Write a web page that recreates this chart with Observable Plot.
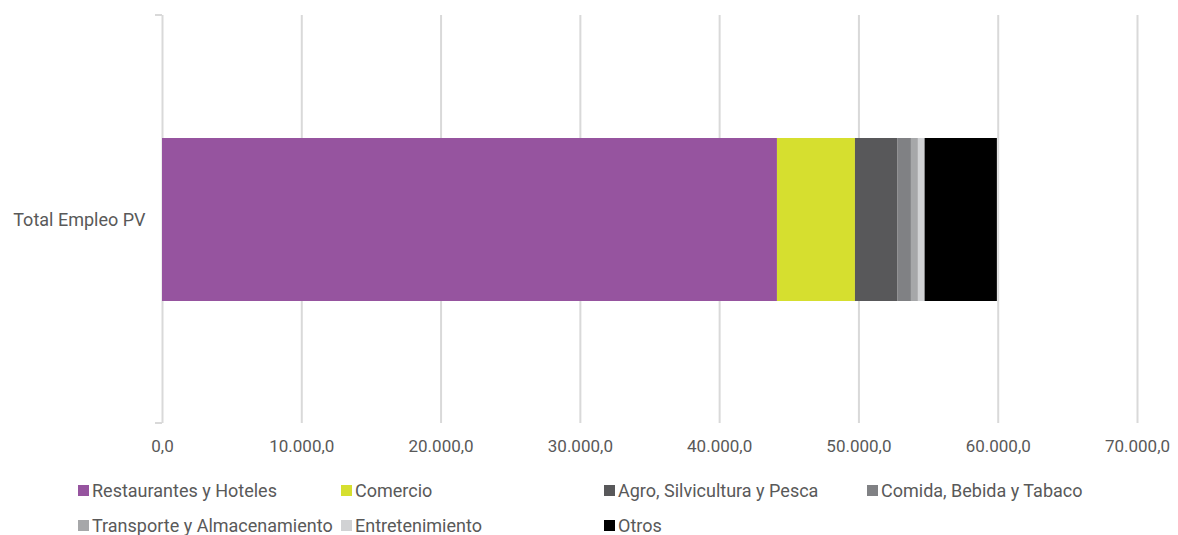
<!DOCTYPE html>
<html>
<head>
<meta charset="utf-8">
<script src="https://cdn.jsdelivr.net/npm/d3@7"></script>
<script src="https://cdn.jsdelivr.net/npm/@observablehq/plot@0.6"></script>
<style>
  html, body { margin: 0; padding: 0; background: #fff; }
  body { width: 1178px; height: 535px; position: relative; overflow: hidden; font-family: Roboto, "Noto Sans", sans-serif; }
  #chart { position: absolute; left: 0; top: 0; }
  #legend { position: absolute; left: 78px; top: 477px; display: grid; grid-template-columns: 263px 263px 263px 263px; grid-auto-rows: 35px; font-size: 18px; color: #595959; }
  .item { display: flex; align-items: center; white-space: nowrap; height: 26px; }
  .sw { width: 11px; height: 11px; margin-right: 3px; flex: none; }
</style>
</head>
<body>
<div id="chart"></div>
<div id="legend"></div>
<script>
const category = "Total Empleo PV";
const sectors = ["Restaurantes y Hoteles", "Comercio", "Agro, Silvicultura y Pesca", "Comida, Bebida y Tabaco", "Transporte y Almacenamiento", "Entretenimiento", "Otros"];
const values = [44150, 5600, 3060, 960, 500, 480, 5190];
const colors = ["#96549f", "#d6df2f", "#58585a", "#808184", "#a6a7a9", "#d1d2d4", "#000000"];
const xTicks = [0, 10000, 20000, 30000, 40000, 50000, 60000, 70000];

const locale = d3.formatLocale({decimal: ",", thousands: ".", grouping: [3], currency: ["", ""]});
const fmt = locale.format(",.1f");

const data = sectors.map((s, i) => ({sector: s, value: values[i], category, order: i}));

// small category-boundary ticks on the value axis line (top and bottom)
function boundaryTicks(index, scales, values, dims) {
  const ns = "http://www.w3.org/2000/svg";
  const g = document.createElementNS(ns, "g");
  const x0 = scales.x(0);
  [dims.marginTop, dims.height - dims.marginBottom].forEach(yy => {
    const l = document.createElementNS(ns, "line");
    l.setAttribute("x1", x0 - 7); l.setAttribute("x2", x0);
    l.setAttribute("y1", yy); l.setAttribute("y2", yy);
    l.setAttribute("stroke", "#d9d9d9"); l.setAttribute("stroke-width", 2);
    g.appendChild(l);
  });
  return g;
}

const chart = Plot.plot({
  width: 1178,
  height: 465,
  marginLeft: 162,
  marginRight: 41,
  marginTop: 15,
  marginBottom: 42,
  style: {fontFamily: "Roboto, 'Noto Sans', sans-serif", fontSize: "16px", color: "#595959", background: "#fff"},
  x: {domain: [0, 70000], ticks: xTicks, tickFormat: fmt, label: null},
  y: {domain: [category], padding: 0.4286, label: null},
  color: {domain: sectors, range: colors},
  marks: [
    Plot.gridX(xTicks, {stroke: "#d9d9d9", strokeOpacity: 1, strokeWidth: 2}),
    boundaryTicks,
    Plot.barX(data, {x: "value", y: "category", fill: "sector", order: sectors}),
    Plot.axisX(xTicks, {tickSize: 0, tickPadding: 16, tickFormat: fmt, fill: "#595959", fontSize: 17}),
    Plot.axisY({tickSize: 0, tickPadding: 17, fill: "#595959", fontSize: 18})
  ]
});
document.getElementById("chart").appendChild(chart);

const legend = document.getElementById("legend");
sectors.forEach((s, i) => {
  const d = document.createElement("div");
  d.className = "item";
  const sw = document.createElement("span");
  sw.className = "sw";
  sw.style.background = colors[i];
  const t = document.createElement("span");
  t.textContent = s;
  d.appendChild(sw);
  d.appendChild(t);
  if (i === 4) { d.style.gridColumn = "1"; }
  legend.appendChild(d);
});
</script>
</body>
</html>
